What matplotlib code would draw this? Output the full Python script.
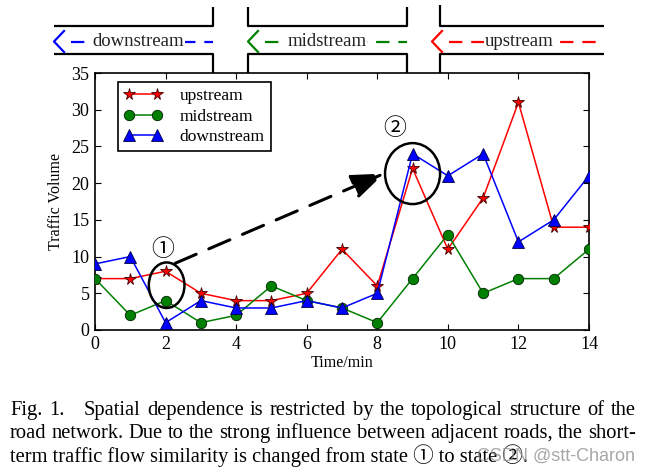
import matplotlib
matplotlib.use("Agg")
import matplotlib.pyplot as plt
from matplotlib.lines import Line2D
from matplotlib.patches import Ellipse

# ---- data ----
time = list(range(15))
upstream = [7, 7, 8, 5, 4, 4, 5, 11, 6, 22, 11, 18, 31, 14, 14]
midstream = [7, 2, 4, 1, 2, 6, 4, 3, 1, 7, 13, 5, 7, 7, 11]
downstream = [9, 10, 1, 4, 3, 3, 4, 3, 5, 24, 21, 24, 12, 15, 21]
xticks = list(range(0, 15, 2))
yticks = list(range(0, 36, 5))

caption_lines = [
    "Fig. 1.   Spatial dependence is restricted by the topological structure of the",
    "road network. Due to the strong influence between adjacent roads, the short-",
    "term traffic flow similarity is changed from state \u2460 to state \u2461.",
]

W, H = 647, 475
SERIF = ["Liberation Serif", "Noto Sans CJK SC"]
plt.rcParams["font.family"] = SERIF

fig = plt.figure(figsize=(W / 100, H / 100), dpi=100)


def fx(x):
    return x / W


def fy(y):
    return 1 - y / H


ax = fig.add_axes([fx(95), fy(330), (589 - 95) / W, (330 - 73) / H])

ax.plot(time, upstream, color="red", lw=1.1, marker="*", ms=8.5, mfc="red",
        mec="#400000", mew=0.6, label="upstream", zorder=3)
ax.plot(time, midstream, color=(0, 0.5, 0), lw=1.1, marker="o", ms=7.5,
        mfc=(0, 0.5, 0), mec="#002000", mew=0.6, label="midstream", zorder=3)
ax.plot(time, downstream, color="blue", lw=1.1, marker="^", ms=8, mfc="blue",
        mec="#000040", mew=0.6, label="downstream", zorder=3)

ax.set_xlim(0, 14)
ax.set_ylim(0, 35)
ax.set_xticks(xticks)
ax.set_yticks(yticks)
ax.tick_params(direction="in", top=True, right=True, length=4, width=0.8,
               labelsize=13, pad=4)
for s in ax.spines.values():
    s.set_linewidth(1.2)
ax.set_xlabel("Time/min", fontsize=11.5, labelpad=2)
ax.set_ylabel("Traffic Volume", fontsize=11.5, labelpad=5)

leg = ax.legend(loc="upper left", bbox_to_anchor=(23 / 494, 1 - 9 / 257),
                borderaxespad=0, numpoints=2, fontsize=12.5, fancybox=False,
                edgecolor="black", framealpha=1, handlelength=2.2,
                labelspacing=0.25, borderpad=0.35, handletextpad=1.0)
leg.get_frame().set_linewidth(1.2)

# annotations: state circles and arrow
ax.add_patch(Ellipse((2.03, 6.1), 1.01, 6.2, fill=False, lw=1.8, ec="black",
                     clip_on=False, zorder=5))
ax.add_patch(Ellipse((9.0, 21.3), 1.56, 8.3, fill=False, lw=1.8, ec="black",
                     clip_on=False, zorder=5))
ax.text(1.92, 11.0, "\u2460", fontsize=16.5, ha="center", va="center",
        family=["Noto Sans CJK SC"])
ax.text(8.5, 27.5, "\u2461", fontsize=16.5, ha="center", va="center",
        family=["Noto Sans CJK SC"])
ax.annotate("", xy=(8.19, 21.3), xytext=(2.27, 9.08),
            arrowprops=dict(arrowstyle="-|>,head_length=1.0,head_width=0.38",
                            lw=2.2, ls=(0, (7.5, 4.5)), color="black",
                            shrinkA=0, shrinkB=0, mutation_scale=20),
            zorder=6)

# ---- road diagram on top ----
def seg(xs, ys, **kw):
    fig.add_artist(Line2D([fx(x) for x in xs], [fy(y) for y in ys],
                          transform=fig.transFigure, **kw))


road_kw = dict(color="black", lw=1.6, solid_capstyle="butt")
# segment A (downstream)
seg([54, 213, 213], [26, 26, 7], **road_kw)
seg([54, 213, 213], [54, 54, 73], **road_kw)
# segment B (midstream)
seg([248, 248, 407, 407], [7, 26, 26, 7], **road_kw)
seg([248, 248, 407, 407], [73, 54, 54, 73], **road_kw)
# segment C (upstream)
seg([440, 440, 604], [5, 26, 26], **road_kw)
seg([440, 440, 604], [73, 54, 54], **road_kw)

flows = [
    ("downstream", "blue", 54, 213, 138),
    ("midstream", (0, 0.5, 0), 248, 407, 327),
    ("upstream", "red", 432, 604, 519),
]
for name, col, x0, x1, xc in flows:
    y = 41.5
    seg([x0 + 10, x0, x0 + 10], [y - 10.5, y, y + 10.5], color=col, lw=1.6)
    seg([x0 + 17, x1], [y, y], color=col, lw=1.6, ls=(0, (6, 4)))
    fig.text(fx(xc), fy(y), name, fontsize=13.5, color="#222222",
             ha="center", va="center",
             bbox=dict(facecolor="white", edgecolor="none", pad=0.5))

# ---- caption (justified) ----
renderer = fig.canvas.get_renderer()
cap_x0, cap_x1 = 10, 636
cap_fs = 14.8
baselines = [415, 438, 462]


def word_width(t):
    tt = fig.text(0, 0, t, fontsize=cap_fs, family=SERIF)
    w = tt.get_window_extent(renderer).width
    tt.remove()
    return w


for i, line in enumerate(caption_lines):
    yb = baselines[i]
    if i < 2:
        if i == 0:
            words = ["Fig.", "1.", "Spatial"] + line.split("Spatial", 1)[1].split()
            weights = [1, 3] + [1] * (len(words) - 3)
        else:
            words = line.split()
            weights = [1] * (len(words) - 1)
        widths = [word_width(w) for w in words]
        free = (cap_x1 - cap_x0) - sum(widths)
        unit = free / sum(weights)
        x = cap_x0
        for j, w in enumerate(words):
            fig.text(fx(x), fy(yb), w, fontsize=cap_fs, va="baseline",
                     ha="left", family=SERIF)
            x += widths[j]
            if j < len(weights):
                x += unit * weights[j]
    else:
        fig.text(fx(cap_x0), fy(yb), line, fontsize=cap_fs, va="baseline",
                 ha="left", family=SERIF)

# watermark
fig.text(fx(477), fy(461), "CSDN @stt-Charon", fontsize=13, color="#8a8a8a",
         alpha=0.75, family=["Liberation Sans"], va="baseline", ha="left")

fig.savefig("out.png", dpi=100)
